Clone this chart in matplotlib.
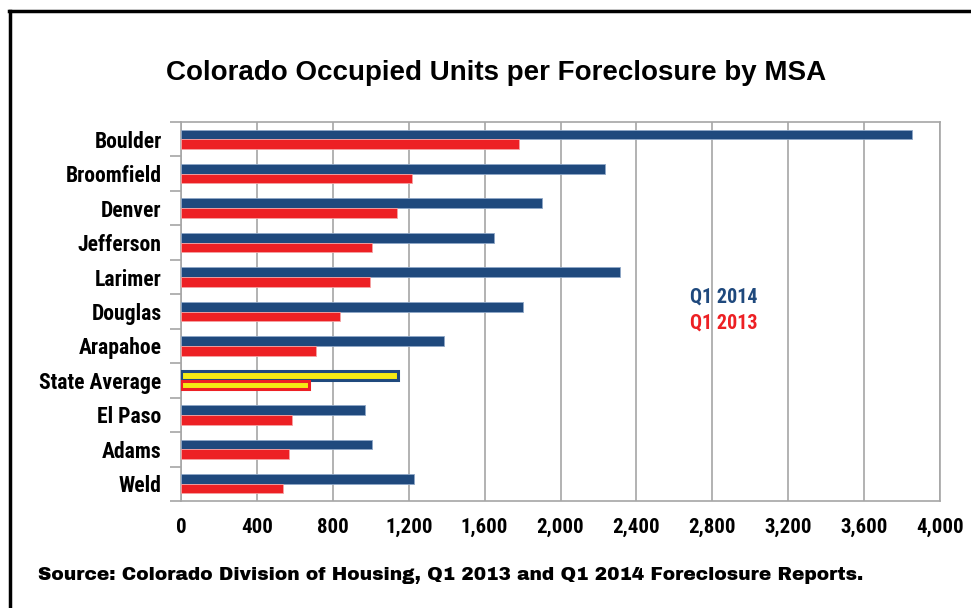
import matplotlib
matplotlib.use("Agg")
import matplotlib.pyplot as plt
from matplotlib import font_manager
from matplotlib.lines import Line2D

categories = ["Boulder", "Broomfield", "Denver", "Jefferson", "Larimer", "Douglas",
              "Arapahoe", "State Average", "El Paso", "Adams", "Weld"]
q1_2014 = [3850, 2235, 1905, 1650, 2315, 1805, 1385, 1145, 970, 1005, 1230]
q1_2013 = [1780, 1220, 1140, 1005, 995, 840, 710, 675, 585, 570, 540]
xticks = [0, 400, 800, 1200, 1600, 2000, 2400, 2800, 3200, 3600, 4000]
xtick_labels = ["0", "400", "800", "1,200", "1,600", "2,000", "2,400", "2,800",
                "3,200", "3,600", "4,000"]

names = {f.name for f in font_manager.fontManager.ttflist}


def pick(*cands):
    for c in cands:
        if c in names:
            return c
    return "DejaVu Sans"


narrow = pick("Roboto Condensed", "Archivo Narrow", "Liberation Sans Narrow", "Liberation Sans")
heavy = pick("Archivo Black", "Arial Black", "DejaVu Sans")
sans = pick("Liberation Sans", "Arimo", "DejaVu Sans")

NAVY = "#1f497d"
RED = "#ed2024"
YELLOW = "#f5eb14"
GRID = "#a6a6a6"

fig = plt.figure(figsize=(9.71, 6.08), dpi=100)
ax = fig.add_axes([181/971, 1 - 501/608, (940-181)/971, (501-122)/608])

n = len(categories)
h = 0.28
for i, (a, b) in enumerate(zip(q1_2014, q1_2013)):
    y = n - 1 - i
    if categories[i] == "State Average":
        ax.barh(y + h/2, a, height=h*0.85, color=YELLOW, edgecolor=NAVY, linewidth=2.2, zorder=3)
        ax.barh(y - h/2, b, height=h*0.85, color=YELLOW, edgecolor=RED, linewidth=2.2, zorder=3)
    else:
        ax.barh(y + h/2, a, height=h, color=NAVY, edgecolor="#8fa7c7", linewidth=0.6, zorder=3)
        ax.barh(y - h/2, b, height=h, color=RED, edgecolor="#f4a3a3", linewidth=0.6, zorder=3)

ax.set_xlim(0, 4000)
ax.set_ylim(-0.5, n - 0.5)
ax.set_xticks(xticks)
ax.set_xticklabels(xtick_labels, fontfamily=narrow, fontweight="bold", fontsize=15)
ax.tick_params(axis="x", length=0, pad=12)
ax.set_yticks([n - 1 - i for i in range(n)])
ax.set_yticklabels(categories, fontfamily=narrow, fontweight="bold", fontsize=15.6)
ax.tick_params(axis="y", length=0, pad=14)
ax.set_yticks([k + 0.5 for k in range(-1, n)], minor=True)
ax.tick_params(axis="y", which="minor", length=8, color=GRID, width=1.2, direction="out")
ax.grid(axis="x", color=GRID, linewidth=1.2, zorder=0)
for s in ax.spines.values():
    s.set_color(GRID)
    s.set_linewidth(1.2)

fig.text(496/971, 1 - 73/608, "Colorado Occupied Units per Foreclosure by MSA",
         ha="center", va="center", fontsize=20, fontweight="bold", family=sans)
ax.text(2680, 5.41, "Q1 2014", color=NAVY, fontsize=14.5, fontweight="bold", family=narrow,
        va="center", ha="left")
ax.text(2680, 4.66, "Q1 2013", color=RED, fontsize=14.5, fontweight="bold", family=narrow,
        va="center", ha="left")
fig.text(38/971, 1 - 576/608,
         "Source: Colorado Division of Housing, Q1 2013 and Q1 2014 Foreclosure Reports.",
         ha="left", va="center", fontsize=13.4, fontweight="bold", family=heavy)

fig.add_artist(Line2D([10/971, 10/971], [0, 1 - 11/608], color="black", linewidth=2.5,
                      transform=fig.transFigure))
fig.add_artist(Line2D([9/971, 1], [1 - 11/608, 1 - 11/608], color="black", linewidth=2.5,
                      transform=fig.transFigure))

fig.savefig("out.png", dpi=100)
